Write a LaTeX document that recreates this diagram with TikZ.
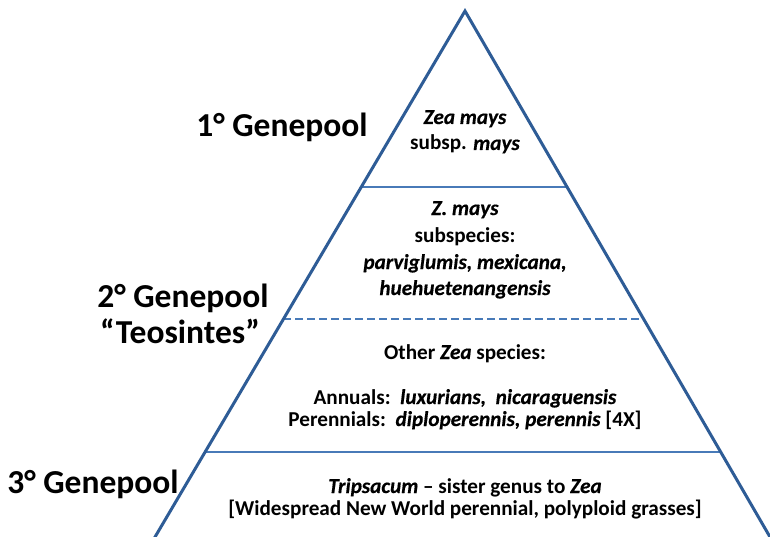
\documentclass[tikz,border=0pt]{standalone}
\usepackage{fontspec}
\setmainfont{Carlito}
\newfontfamily\bitfont{Carlito Bold Italic}[FakeBold=0.4]
\newcommand\bit[1]{{\bitfont #1}}
\usetikzlibrary{calc}
\definecolor{edgeblue}{RGB}{46,92,150}
\definecolor{tierblue}{RGB}{72,122,184}
\tikzset{
  edgeline/.style={draw=edgeblue, line width=3pt, line join=miter},
  tierline/.style={draw=tierblue, line width=2.6pt},
  tierdash/.style={tierline, dash pattern=on 8pt off 4pt},
  glabel/.style={font=\fontsize{33.5}{40}\selectfont\bfseries, anchor=base, inner sep=0pt},
  body/.style={font=\fontsize{21.2}{25}\selectfont\bfseries, anchor=base, inner sep=0pt},
}
\begin{document}
\begin{tikzpicture}[x=1pt,y=-1pt]
\useasboundingbox (0,0) rectangle (770,537);
\clip (0,0) rectangle (770,537);
\fill[white] (0,0) rectangle (770,537);
% pyramid
\coordinate (apex) at (465,11);
\coordinate (bl) at (155,537);
\coordinate (br) at (770,537);
\coordinate (blx) at ($(apex)!1.05!(bl)$);
\coordinate (brx) at ($(apex)!1.05!(br)$);
% tier boundaries
\coordinate (l1) at ($(apex)!0.3346!(bl)$);
\coordinate (r1) at ($(apex)!0.3346!(br)$);
\coordinate (l2) at ($(apex)!0.5856!(bl)$);
\coordinate (r2) at ($(apex)!0.5856!(br)$);
\coordinate (l3) at ($(apex)!0.8384!(bl)$);
\coordinate (r3) at ($(apex)!0.8384!(br)$);
\draw[tierline] (l1) -- (r1);
\draw[tierdash] (l2) -- (r2);
\draw[tierline] (l3) -- (r3);
\draw[edgeline] (blx) -- (apex) -- (brx);
% genepool labels
\node[glabel] (g1) at (282,137) {1° Genepool};
\node[glabel] (g2) at (183,307) {2° Genepool};
\node[glabel] (g2b) at (180,343) {“Teosintes”};
\node[glabel] (g3) at (93,493) {3° Genepool};
% tier 1
\node[body] (t1a) at (465,124) {\bit{Zea mays}};
\node[body] (t1b) at (465,150) {subsp. \bit{mays}};
% tier 2
\node[body] (t2a) at (465,215) {\bit{Z. mays}};
\node[body] (t2b) at (465,242) {subspecies:};
\node[body] (t2c) at (465,269) {\bit{parviglumis, mexicana,}};
\node[body] (t2d) at (465,295) {\bit{huehuetenangensis}};
% tier 3
\node[body] (t3a) at (465,359) {Other \bit{Zea} species:};
\node[body] (t3b) at (465,404) {Annuals:\ \ \bit{luxurians,\ \ nicaraguensis}};
\node[body] (t3c) at (465,426) {Perennials:\ \ \bit{diploperennis, perennis} [4X]};
% tier 4
\node[body] (t4a) at (465,493) {\bit{Tripsacum} -- sister genus to \bit{Zea}};
\node[body] (t4b) at (465,515) {[Widespread New World perennial, polyploid grasses]};
\end{tikzpicture}
\end{document}
